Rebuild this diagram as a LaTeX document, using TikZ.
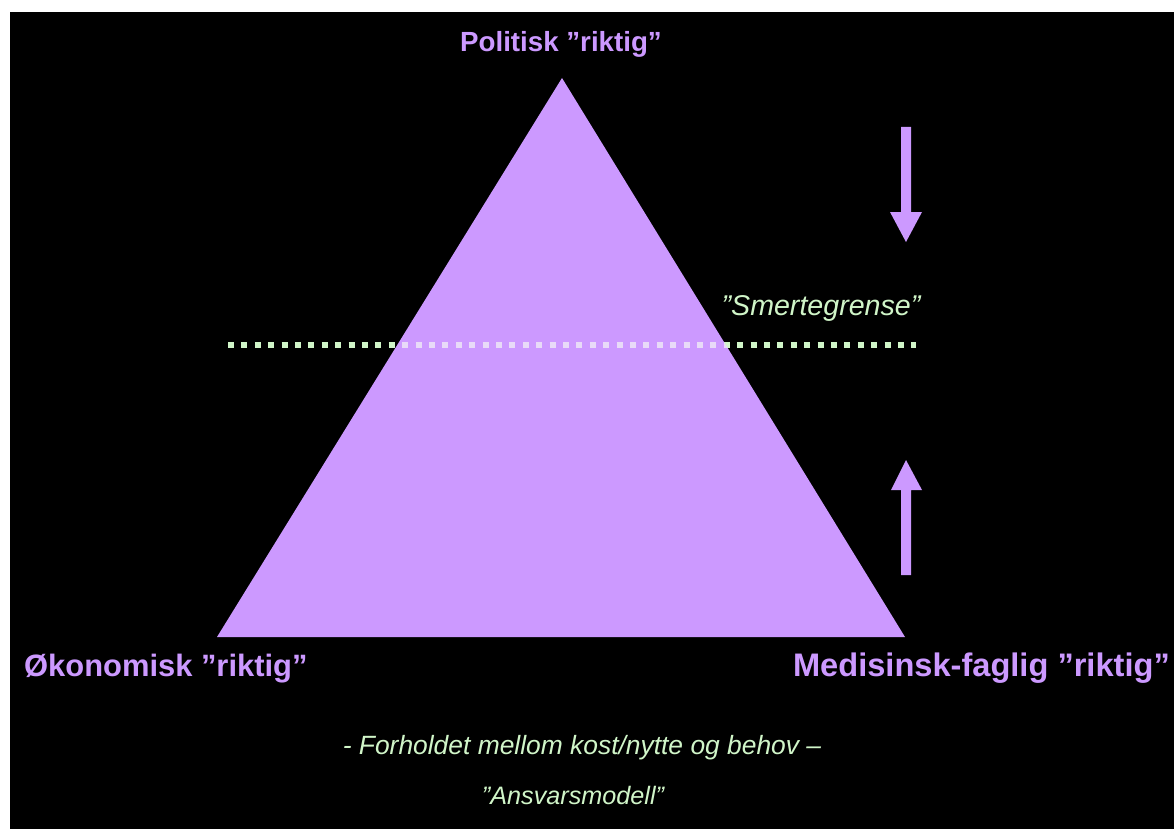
\documentclass[tikz,border=0pt]{standalone}
\usepackage{fontspec}
\setmainfont{Liberation Sans}
\usetikzlibrary{positioning}

\definecolor{lilla}{RGB}{204,153,255}
\definecolor{lysgronn}{RGB}{208,245,200}
\definecolor{lysinne}{RGB}{232,218,248}

\tikzset{
  hjorne/.style={text=lilla,font=\bfseries,inner sep=0pt},
  kursiv/.style={text=lysgronn,font=\itshape,inner sep=0pt},
  prikker/.style={line width=6pt,dash pattern=on 6pt off 7.4pt}
}

\begin{document}
\begin{tikzpicture}[x=1pt,y=-1pt]
  \useasboundingbox (0,0) rectangle (1174,829);
  \fill[white] (0,0) rectangle (1174,829);
  \fill[black] (10,12) rectangle (1174,829);

  %triangle
  \fill[lilla] (562,78) -- (905,637) -- (217,637) -- cycle;

  %smertegrense, dotted line
  \draw[prikker,lysgronn] (228,345) -- (916,345);
  \begin{scope}
    \clip (562,78) -- (905,637) -- (217,637) -- cycle;
    \draw[prikker,lysinne] (228,345) -- (916,345);
  \end{scope}

  %arrows on the right
  \fill[lilla] (901,127) -- (911,127) -- (911,212) -- (922,212) -- (906,242)
    -- (890,212) -- (901,212) -- cycle;
  \fill[lilla] (901,575) -- (911,575) -- (911,490) -- (922,490) -- (906,460)
    -- (891,490) -- (901,490) -- cycle;

  \node[hjorne,font=\fontsize{27.7}{30}\bfseries,anchor=base] (topp) at (561,52) {Politisk ”riktig”};
  \node[hjorne,font=\fontsize{30.9}{33}\bfseries,anchor=base west] (okonomi) at (24,676) {Økonomisk ”riktig”};
  \node[hjorne,font=\fontsize{32.6}{35}\bfseries,anchor=base east] (medisin) at (1170,676) {Medisinsk-faglig ”riktig”};

  \node[kursiv,font=\fontsize{28.6}{31}\itshape,anchor=base] (grense) at (821,315) {”Smertegrense”};
  \node[kursiv,font=\fontsize{26.4}{29}\itshape,anchor=base] (forhold) at (582,754) {- Forholdet mellom kost/nytte og behov –};
  \node[kursiv,font=\fontsize{25.2}{28}\itshape,anchor=base] (modell) at (573,804) {”Ansvarsmodell”};

\end{tikzpicture}
\end{document}
